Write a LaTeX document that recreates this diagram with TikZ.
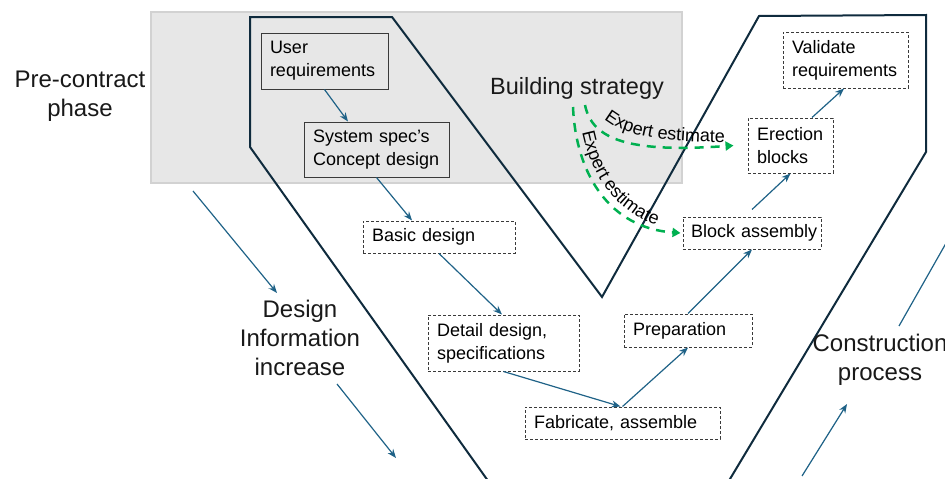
\documentclass[tikz,border=0pt]{standalone}
\usepackage{fontspec}
\setmainfont{Liberation Sans}
\usetikzlibrary{arrows.meta,calc,decorations.text}
\definecolor{navy}{HTML}{0F2B3D}
\definecolor{flow}{HTML}{1F6287}
\definecolor{est}{HTML}{00B050}
\definecolor{shade}{HTML}{E7E7E7}
\definecolor{shadeline}{HTML}{D2D2D2}
\definecolor{boxline}{HTML}{3A3A3A}
\newcommand{\rkboxfont}{\fontsize{18}{23}\selectfont}
\newcommand{\rkbigfont}{\fontsize{24}{29}\selectfont}
\newcommand{\rkestfont}{\fontsize{18}{20}\selectfont}
\begin{document}
\begin{tikzpicture}[x=1pt,y=-1pt,
  solidbox/.style={draw=boxline, line width=1pt, inner xsep=9pt, inner ysep=0pt, align=left, font=\rkboxfont, text=black},
  dashbox/.style={solidbox, dash pattern=on 3pt off 2pt},
  flowarrow/.style={draw=flow, line width=1.2pt, -{Stealth[length=9pt,width=7pt]}},
  estarrow/.style={draw=est, line width=2.5pt, dash pattern=on 9pt off 7pt, -{Triangle[length=8pt,width=9pt]}},
  biglabel/.style={font=\rkbigfont, align=center, text=black!90}]
\useasboundingbox (0,0) rectangle (945,479);
\clip (0,0) rectangle (945,479);
% shaded pre-contract band
\draw[fill=shade, draw=shadeline, line width=1.5pt] (151,12) rectangle (682,183);
% V outline
\draw[navy, line width=2pt, line join=miter]
  (727,484) -- (926,152) -- (926,15) -- (759,16) -- (602,297) -- (392,17)
  -- (250,17) -- (250,147) -- (491,485);
% labels
\node[biglabel] (pre) at (80,96.5) {Pre-contract\\phase};
\node[biglabel] (design) at (300,338) {Design\\Information\\increase};
\node[biglabel] (constr) at (880,360) {Construction\\process};
\node[font=\fontsize{23.5}{28}\selectfont, text=black!90] (strategy) at (577,88) {Building strategy};
% boxes
\node[solidbox, text width=109pt, minimum height=56pt] (ureq) at (324.5,61) {User\\requirements};
\node[solidbox, text width=127pt, minimum height=55pt] (sys) at (376.5,149.5) {System spec’s\\Concept design};
\node[dashbox, text width=134pt, minimum height=32pt] (basic) at (439,237) {Basic design};
\node[dashbox, text width=133pt, minimum height=56pt] (detail) at (503.5,343) {Detail design,\\specifications};
\node[dashbox, text width=177pt, minimum height=32pt] (fab) at (622.5,423) {Fabricate, assemble};
\node[dashbox, text width=110pt, minimum height=33pt] (prep) at (688,330.5) {Preparation};
\node[dashbox, inner xsep=8pt, text width=122pt, minimum height=32pt] (block) at (752,233) {\mbox{Block assembly}};
\node[dashbox, text width=67pt, minimum height=55pt] (erec) at (790.5,145.5) {Erection\\blocks};
\node[dashbox, text width=107pt, minimum height=56pt] (valid) at (845.5,60) {Validate\\requirements};
% flow arrows
\draw[flowarrow] (ureq.south) -- ([xshift=-28.5pt]sys.north);
\draw[flowarrow] (sys.south) -- ([xshift=-27pt]basic.north);
\draw[flowarrow] (basic.south) -- ([xshift=-1.5pt]detail.north);
\draw[flowarrow] (detail.south) -- ([xshift=-2pt]fab.north);
\draw[flowarrow] (fab.north) -- (prep.south);
\draw[flowarrow] (prep.north) -- (block.south);
\draw[flowarrow] ([yshift=7pt]block.north) -- (erec.south);
\draw[flowarrow] ([xshift=21.5pt]erec.north) -- ([xshift=-1.5pt]valid.south);
% free trend arrows
\coordinate (t1s) at (193,191); \coordinate (t1e) at (277,293);
\coordinate (t2s) at (337,384); \coordinate (t2e) at (396,458);
\coordinate (t3s) at (802,476); \coordinate (t3e) at (847,404);
\coordinate (t4s) at (899,326); \coordinate (t4e) at (962,215);
\draw[flowarrow] (t1s) -- (t1e);
\draw[flowarrow] (t2s) -- (t2e);
\draw[flowarrow] (t3s) -- (t3e);
\draw[flowarrow] (t4s) -- (t4e);
% expert estimates
\coordinate (e1s) at (585,105);
\coordinate (e2s) at (573,107);
\draw[estarrow] (e1s) .. controls (592,140) and (630,153) .. ([xshift=-14pt]erec.west);
\draw[estarrow] (e2s) .. controls (576,175) and (610,228) .. ([xshift=-2pt]block.west);
\path[decorate, decoration={text along path, text align=center,
  text={|\rkestfont|Expert estimate}}]
  (599,114) .. controls (620,137) and (665,143) .. (732,142);
\path[decorate, decoration={text along path, text align=center,
  text={|\rkestfont|Expert estimate}}]
  (580,120) .. controls (589,180) and (620,217) .. (668,229);
\end{tikzpicture}
\end{document}
